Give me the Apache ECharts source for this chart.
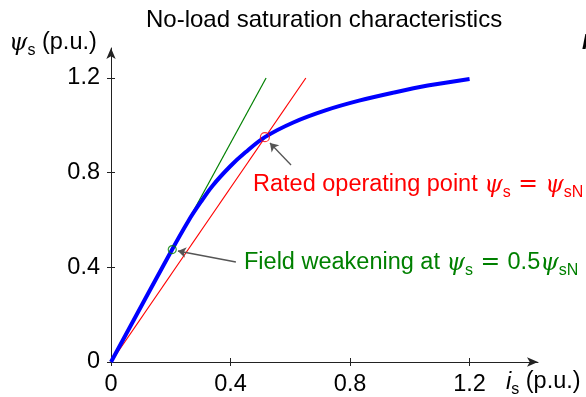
<!DOCTYPE html>
<html>
<head>
<meta charset="utf-8">
<script src="https://cdn.jsdelivr.net/npm/echarts@6/dist/echarts.min.js"></script>
<style>html,body{margin:0;padding:0;background:#fff}#c{width:586px;height:397px}</style>
</head>
<body>
<div id="c"></div>
<script>
// ---- data ----
const titleText = 'No-load saturation characteristics';
const xTicks = [0, 0.4, 0.8, 1.2];
const yTicks = [0, 0.4, 0.8, 1.2];
const curveIs  = [0, 0.2, 0.26, 0.30, 0.34, 0.40, 0.45, 0.515, 0.61, 0.72, 0.83, 0.945, 1.06, 1.2];
const curvePsi = [0, 0.465, 0.598, 0.675, 0.745, 0.828, 0.886, 0.950, 1.012, 1.064, 1.104, 1.138, 1.168, 1.196];
const greenLineIs = [0, 0.519];
const greenLinePsi = [0, 1.2];
const redLineIs = [0, 0.652];
const redLinePsi = [0, 1.2];
const ratedPoint = [0.515, 0.950];
const fieldPoint = [0.205, 0.475];
const ratedArrowFrom = [0.6025, 0.832];
const ratedArrowTo = [0.532, 0.925];
const fieldArrowFrom = [0.418, 0.4225];
const fieldArrowTo = [0.224, 0.469];

const zip = (a, b) => a.map((v, i) => [v, b[i]]);
const SANS = "'Liberation Sans', Arial, sans-serif";
const SERIF = "'DejaVu Serif', serif";
const FS = 23.5;

const chart = echarts.init(document.getElementById('c'));

function mathRich(color) {
  return {
    t: { fontSize: FS, fontFamily: SANS, fill: color, verticalAlign: 'bottom', padding: [0, 0, 5, 0] },
    m: { fontSize: FS, fontFamily: SERIF, fontStyle: 'italic', fill: color, verticalAlign: 'bottom', padding: [0, 0, 5, 0] },
    i: { fontSize: FS, fontFamily: SANS, fontStyle: 'italic', fill: color, verticalAlign: 'bottom', padding: [0, 0, 5, 0] },
    e: { fontSize: FS, fontFamily: SERIF, fill: color, verticalAlign: 'bottom', padding: [0, 0, 5, 0] },
    s: { fontSize: 16, fontFamily: SANS, fill: color, verticalAlign: 'bottom', padding: [0, 0, 1, 0] }
  };
}

const axisCommon = (min, max, vals) => ({
  type: 'value', min: min, max: max,
  splitLine: { show: false },
  axisLine: { show: true, lineStyle: { color: '#222', width: 1 }, symbol: ['none', 'arrow'], symbolSize: [7, 11] },
  axisTick: { show: true, length: 4, lineStyle: { color: '#222' }, customValues: vals },
  axisLabel: { show: true, color: '#000', fontSize: FS, fontFamily: SANS, customValues: vals }
});

const xMain = axisCommon(0, 1.429, xTicks);
xMain.axisLabel.margin = 11;
const yMain = axisCommon(0, 1.3266, yTicks);
yMain.axisLabel.margin = 11;
const xOver = { type: 'value', min: 0, max: 1.429, position: 'bottom', splitLine: { show: false }, axisLine: { show: false }, axisLabel: { show: false },
  axisTick: { show: true, inside: true, length: 4, lineStyle: { color: '#222' }, customValues: xTicks } };
const yOver = { type: 'value', min: 0, max: 1.3266, position: 'left', splitLine: { show: false }, axisLine: { show: false }, axisLabel: { show: false },
  axisTick: { show: true, inside: true, length: 4, lineStyle: { color: '#222' }, customValues: yTicks } };
xMain.position = 'bottom';
yMain.position = 'left';

chart.setOption({
  animation: false,
  backgroundColor: '#fff',
  title: { text: titleText, left: 141, top: 3, textStyle: { fontSize: 24, fontWeight: 'normal', fontFamily: SANS, color: '#000' } },
  grid: { left: 111, right: 48, top: 48, bottom: 35, containLabel: false },
  xAxis: [xMain, xOver],
  yAxis: [yMain, yOver],
  series: [
    { type: 'line', data: zip(greenLineIs, greenLinePsi), symbol: 'none', lineStyle: { color: '#008000', width: 1.2 }, z: 2 },
    { type: 'line', data: zip(redLineIs, redLinePsi), symbol: 'none', lineStyle: { color: '#ff0000', width: 1.2 }, z: 2 },
    { type: 'line', data: zip(curveIs, curvePsi), symbol: 'none', smooth: 0.35, lineStyle: { color: '#0000ff', width: 4 }, z: 3,
      markLine: {
        silent: true, symbol: ['none', 'arrow'], symbolSize: 8, label: { show: false },
        lineStyle: { color: '#555', width: 1.3, type: 'solid' },
        data: [
          [{ coord: ratedArrowFrom }, { coord: ratedArrowTo }],
          [{ coord: fieldArrowFrom }, { coord: fieldArrowTo }]
        ]
      }
    },
    { type: 'scatter', data: [ratedPoint], symbol: 'circle', symbolSize: 9, itemStyle: { color: 'rgba(0,0,0,0)', borderColor: '#ff0000', borderWidth: 1.2 }, z: 5 },
    { type: 'scatter', data: [fieldPoint], symbol: 'circle', symbolSize: 8, itemStyle: { color: 'rgba(0,0,0,0)', borderColor: '#008000', borderWidth: 1.2 }, z: 5 }
  ],
  graphic: [
    { type: 'text', left: 9, top: 31, style: { text: '{m|ψ}{s|s}{t| (p.u.)}', rich: mathRich('#000') } },
    { type: 'text', left: 506, top: 370, style: { text: '{i|i}{s|s}{t| (p.u.)}', rich: mathRich('#000') } },
    { type: 'text', left: 253, top: 173, style: { text: '{t|Rated operating point }{m|ψ}{s|s}{e| = }{m|ψ}{s|sN}', rich: mathRich('#ff0000') } },
    { type: 'text', left: 244, top: 251, style: { text: '{t|Field weakening at }{m|ψ}{s|s}{e| = }{t|0.5}{m|ψ}{s|sN}', rich: mathRich('#008000') } },
    { type: 'text', left: 582, top: 32, style: { text: 'I', fontSize: 22, fontFamily: SANS, fontStyle: 'italic', fontWeight: 'bold', fill: '#000' } }
  ]
});
</script>
</body>
</html>
